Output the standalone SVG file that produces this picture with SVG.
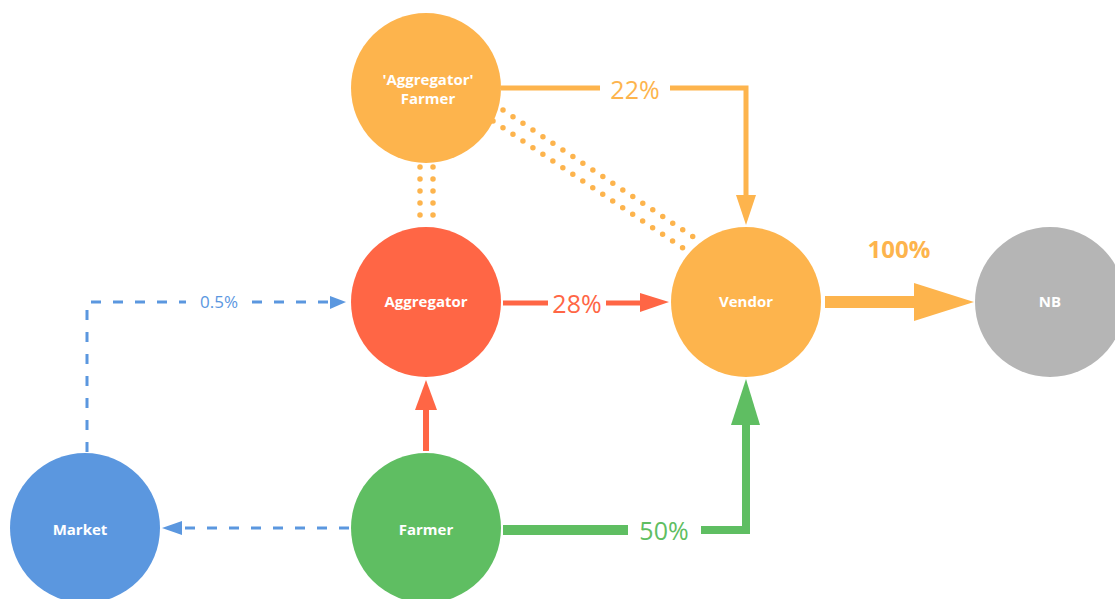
<svg xmlns="http://www.w3.org/2000/svg" width="1115" height="599" viewBox="0 0 1115 599">
<style>
.node text{font-family:"Open Sans","Liberation Sans",sans-serif;font-weight:bold;font-size:15px;fill:#fff;text-anchor:middle}
.lbl{font-family:"Open Sans","Liberation Sans",sans-serif;text-anchor:middle}
.dot{fill:none;stroke:#fdb44d;stroke-width:5.5;stroke-linecap:round;stroke-dasharray:0 12}
.dash{fill:none;stroke:#5b97df;stroke-width:3;stroke-dasharray:10 12}
</style>
<rect width="1115" height="599" fill="#fff"/>
<g id="connectors">
  <line class="dot" x1="420" y1="167" x2="420" y2="226"/>
  <line class="dot" x1="433" y1="167" x2="433" y2="226"/>
  <line class="dot" x1="493" y1="121" x2="686" y2="250"/>
  <line class="dot" x1="503" y1="110" x2="698" y2="240"/>
  <polyline points="501,88 600,88" fill="none" stroke="#fdb44d" stroke-width="5"/>
  <polyline points="670,88 746,88 746,197" fill="none" stroke="#fdb44d" stroke-width="5"/>
  <polygon points="736,195 756,195 746,225" fill="#fdb44d"/>
  <text class="lbl" x="635" y="99" font-size="25" fill="#fdb44d">22%</text>
  <line x1="503" y1="303" x2="548" y2="303" stroke="#ff6645" stroke-width="5"/>
  <line x1="606" y1="303" x2="645" y2="303" stroke="#ff6645" stroke-width="5"/>
  <polygon points="640,293 669,302 640,312" fill="#ff6645"/>
  <text class="lbl" x="577" y="313" font-size="25" fill="#ff6645">28%</text>
  <rect x="825" y="296" width="92" height="12" fill="#fdb44d"/>
  <polygon points="914,283 974,302 914,321" fill="#fdb44d"/>
  <text class="lbl" x="899" y="258" font-size="24" font-weight="bold" fill="#fdb44d">100%</text>
  <line x1="426" y1="451" x2="426" y2="407" stroke="#ff6645" stroke-width="6"/>
  <polygon points="415,410 437,410 426,380" fill="#ff6645"/>
  <line x1="503" y1="530" x2="628" y2="530" stroke="#5fbe62" stroke-width="10"/>
  <polyline points="701,530 746,530 746,422" fill="none" stroke="#5fbe62" stroke-width="8"/>
  <polygon points="731,425 760,425 746,379" fill="#5fbe62"/>
  <text class="lbl" x="664" y="540" font-size="25" fill="#5fbe62">50%</text>
  <line class="dash" x1="349" y1="528" x2="180" y2="528"/>
  <polygon points="182,521 182,535 162,528" fill="#5b97df"/>
  <polyline class="dash" points="87,452 87,302 186,302"/>
  <line class="dash" x1="252" y1="302" x2="330" y2="302"/>
  <polygon points="330,296 330,309 346,302" fill="#5b97df"/>
  <text class="lbl" x="219" y="308" font-size="17" fill="#5b97df">0.5%</text>
</g>
<g id="node-aggfarmer" class="node">
  <circle cx="426" cy="88" r="75" fill="#fdb44d"/>
  <text x="428" y="85">'Aggregator'</text>
  <text x="428" y="104">Farmer</text>
</g>
<g id="node-aggregator" class="node">
  <circle cx="426" cy="302" r="75" fill="#ff6645"/>
  <text x="426" y="307">Aggregator</text>
</g>
<g id="node-vendor" class="node">
  <circle cx="746" cy="302" r="75" fill="#fdb44d"/>
  <text x="746" y="307">Vendor</text>
</g>
<g id="node-nb" class="node">
  <circle cx="1050" cy="302" r="75" fill="#b5b5b5"/>
  <text x="1050" y="307">NB</text>
</g>
<g id="node-market" class="node">
  <circle cx="85" cy="528" r="75" fill="#5b97df"/>
  <text x="80" y="535">Market</text>
</g>
<g id="node-farmer" class="node">
  <circle cx="426" cy="528" r="75" fill="#5fbe62"/>
  <text x="426" y="535">Farmer</text>
</g>
</svg>
